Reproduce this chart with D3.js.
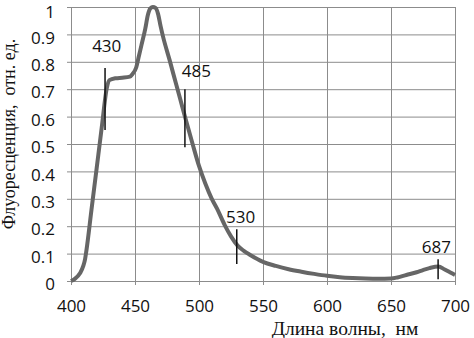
<!DOCTYPE html>
<html><head><meta charset="utf-8">
<script src="https://cdn.jsdelivr.net/npm/d3@7"></script>
<style>body{margin:0;background:#fff}svg{display:block}</style>
</head><body>
<script>
// Data
const wavelength = [400,403,407,409.6,411,412,416,420,424,428,430,435,440,446,448,451,453,455,458,460,462,464,466,468,470,472,477,480,485,489,495,500,505,510,514,520,525,530,535,540,550,560,570,580,590,600,610,620,630,640,650,655,662,670,675,680,687,692,696,700];
const intensity  = [0,0.008,0.028,0.055,0.08,0.11,0.26,0.41,0.56,0.705,0.733,0.74,0.742,0.746,0.755,0.78,0.82,0.86,0.92,0.97,0.995,1.0,0.997,0.975,0.93,0.89,0.807,0.755,0.67,0.60,0.50,0.42,0.355,0.3,0.265,0.205,0.163,0.13,0.11,0.095,0.07,0.055,0.043,0.034,0.026,0.019,0.014,0.011,0.009,0.008,0.009,0.013,0.022,0.032,0.04,0.047,0.053,0.042,0.032,0.022];
const markerLabels = ["430","485","530","687"];
const markerX      = [426.6, 489, 529.5, 686.8];
const markerTop    = [0.777, 0.70, 0.189, 0.079];
const markerBottom = [0.551, 0.488, 0.062, 0.006];
const labelX       = [427.9, 498, 532.5, 685.5];
const labelY       = [0.837, 0.745, 0.213, 0.102];
const xTicks = [400,450,500,550,600,650,700];
const yTicks = [0,0.1,0.2,0.3,0.4,0.5,0.6,0.7,0.8,0.9,1];
const xTitle = "Длина волны,  нм";
const yTitle = "Флуоресценция,  отн. ед.";

const W = 474, H = 338;
const m = {left:71, right:19, top:7, bottom:57};
const svg = d3.select("body").append("svg").attr("width",W).attr("height",H);
const x = d3.scaleLinear().domain([400,700]).range([m.left, W-m.right]);
const y = d3.scaleLinear().domain([0,1]).range([H-m.bottom, m.top]);

const grid = "#8c8c8c";
const numFont = "'Open Sans', sans-serif";
// horizontal grid + y ticks
const gy = svg.append("g").attr("transform",`translate(${m.left},0)`)
  .call(d3.axisLeft(y).tickValues(yTicks).tickSize(-(W-m.left-m.right)).tickSizeOuter(0).tickPadding(0)
    .tickFormat(d => d3.format("")(+d.toFixed(1))));
gy.select(".domain").remove();
gy.selectAll(".tick line").attr("stroke",grid).attr("x1",-4).attr("x2",W-m.left-m.right);
gy.selectAll(".tick text").attr("x",-16).attr("y", d => d === 1 ? 4.5 : 2.5).attr("dy","0.36em")
  .style("font-family",numFont).style("font-size","17px").attr("fill","#111");

const gx = svg.append("g").attr("transform",`translate(0,${H-m.bottom})`)
  .call(d3.axisBottom(x).tickValues(xTicks).tickSize(-(H-m.top-m.bottom)).tickSizeOuter(0));
gx.select(".domain").remove();
gx.selectAll(".tick line").attr("stroke",grid).attr("y1",4).attr("y2",-(H-m.top-m.bottom));
gx.selectAll(".tick text").attr("y",19).attr("dy","0.71em")
  .style("font-family",numFont).style("font-size","17px").attr("fill","#111");

// curve
const pts = wavelength.map((w,i)=>[w,intensity[i]]);
svg.append("path").datum(pts)
  .attr("d", d3.line().x(d=>x(d[0])).y(d=>y(d[1])).curve(d3.curveMonotoneX))
  .attr("fill","none").attr("stroke","#666").attr("stroke-width",4).attr("stroke-linejoin","round");

// markers
markerLabels.forEach((lab,i)=>{
  svg.append("line").attr("x1",x(markerX[i])).attr("x2",x(markerX[i]))
    .attr("y1",y(markerTop[i])).attr("y2",y(markerBottom[i]))
    .attr("stroke","#111").attr("stroke-width",1.5);
  svg.append("text").attr("x",x(labelX[i])).attr("y",y(labelY[i]))
    .attr("text-anchor","middle").style("font-family",numFont)
    .style("font-size","17px").attr("fill","#111").text(lab);
});

// titles
svg.append("text").attr("x",345).attr("y",335).attr("text-anchor","middle")
  .style("font-family","'Liberation Serif', serif").style("font-size","19.5px").attr("fill","#111")
  .style("white-space","pre").text(xTitle);
svg.append("text").attr("transform","translate(15,134) rotate(-90)").attr("text-anchor","middle")
  .style("font-family","'Liberation Serif', serif").style("font-size","18px").attr("fill","#111")
  .style("white-space","pre").text(yTitle);
</script>
</body></html>
